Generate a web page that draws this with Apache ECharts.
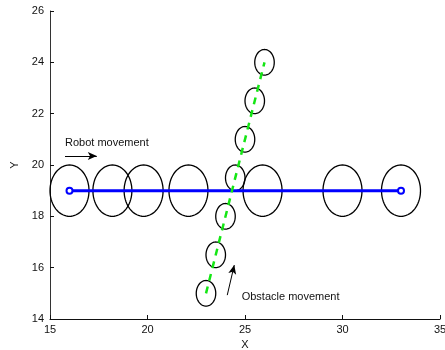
<!DOCTYPE html>
<html>
<head>
<meta charset="utf-8">
<script src="https://cdn.jsdelivr.net/npm/echarts@6/dist/echarts.min.js"></script>
<style>
  html, body { margin: 0; padding: 0; background: #fff; }
  #chart { width: 445px; height: 350px; }
</style>
</head>
<body>
<div id="chart"></div>
<script>
// robot positions (big circles, radius 1)
const robotX = [16, 18.2, 19.8, 22.1, 25.9, 30, 33];
const robotY = [19, 19, 19, 19, 19, 19, 19];
const robotR = 1;
// obstacle positions (small circles, radius 0.5)
const obstacleX = [23, 23.5, 24, 24.5, 25, 25.5, 26];
const obstacleY = [15, 16.5, 18, 19.5, 21, 22.5, 24];
const obstacleR = 0.5;
// paths
const robotPath = [[16, 19], [33, 19]];
const obstaclePath = [[23, 15], [26, 24]];
// annotations: [x, y, text]
const notes = [[15.77, 20.86, 'Robot movement'], [24.83, 14.86, 'Obstacle movement']];
const arrows = [
  [[15.77, 20.35], [17.4, 20.35]],
  [[24.09, 14.93], [24.45, 16.1]]
];

const font = 'Liberation Sans, Arial, sans-serif';

let circles = [];
robotX.forEach((x, i) => circles.push([x, robotY[i], robotR]));
obstacleX.forEach((x, i) => circles.push([x, obstacleY[i], obstacleR]));

function drawCircle(params, api) {
  const cx = api.value(0), cy = api.value(1), r = api.value(2);
  const pts = [];
  for (let k = 0; k < 72; k++) {
    const a = (k / 72) * Math.PI * 2;
    pts.push(api.coord([cx + r * Math.cos(a), cy + r * Math.sin(a)]));
  }
  return {
    type: 'polygon',
    shape: { points: pts },
    style: { fill: 'none', stroke: '#000', lineWidth: 1.3 }
  };
}

const chart = echarts.init(document.getElementById('chart'));
const option = {
  animation: false,
  grid: { left: 50, right: 5, top: 11, bottom: 31, outerBoundsMode: 'none', containLabel: false },
  xAxis: {
    type: 'value', min: 15, max: 35, interval: 5,
    name: 'X', nameLocation: 'middle', nameGap: 16,
    nameTextStyle: { color: '#111', fontSize: 11, fontFamily: font },
    axisLine: { lineStyle: { color: '#111' } },
    axisTick: { inside: true, length: 4, lineStyle: { color: '#111' } },
    axisLabel: { color: '#111', fontSize: 11, fontFamily: font, margin: 5 },
    splitLine: { show: false }
  },
  yAxis: {
    type: 'value', min: 14, max: 26, interval: 2,
    name: 'Y', nameLocation: 'middle', nameGap: 20, nameRotate: 90,
    nameTextStyle: { color: '#111', fontSize: 11, fontFamily: font },
    axisLine: { show: true, lineStyle: { color: '#333' } },
    axisTick: { show: true, inside: true, length: 4, lineStyle: { color: '#111' } },
    axisLabel: { color: '#111', fontSize: 11, fontFamily: font, margin: 6 },
    splitLine: { show: false }
  },
  series: [
    {
      type: 'custom',
      renderItem: drawCircle,
      data: circles,
      clip: false,
      z: 1
    },
    {
      type: 'line',
      data: robotPath,
      symbol: 'emptyCircle',
      symbolSize: 6,
      lineStyle: { color: '#0000ff', width: 3 },
      itemStyle: { color: '#0000ff', borderWidth: 1.5 },
      z: 3
    },
    {
      type: 'line',
      data: obstaclePath,
      symbol: 'none',
      lineStyle: { color: '#14e614', width: 2.5, type: [7, 6] },
      z: 3
    },
    {
      type: 'custom',
      data: notes,
      renderItem: function (params, api) {
        const p = api.coord([api.value(0), api.value(1)]);
        return {
          type: 'text',
          x: p[0], y: p[1],
          style: {
            text: notes[params.dataIndex][2],
            fill: '#111', font: '11px ' + font,
            textAlign: 'left', textVerticalAlign: 'middle'
          }
        };
      },
      z: 4
    },
    {
      type: 'line',
      data: [],
      markLine: {
        silent: true,
        symbol: ['none', 'arrow'],
        symbolSize: [6, 9],
        label: { show: false },
        lineStyle: { color: '#000', width: 1, type: 'solid' },
        data: arrows.map(a => [{ coord: a[0] }, { coord: a[1] }])
      },
      z: 4
    }
  ]
};
chart.setOption(option);
</script>
</body>
</html>
